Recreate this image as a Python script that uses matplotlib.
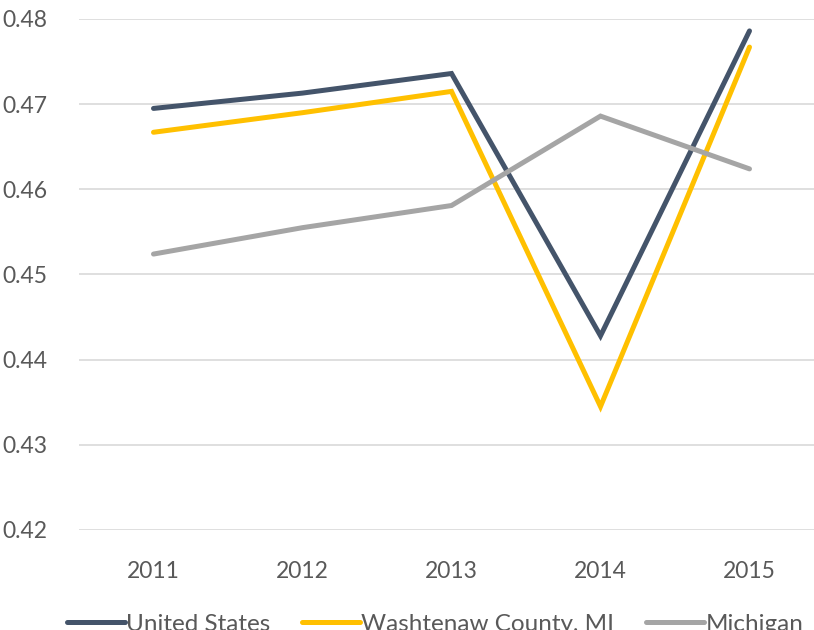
import matplotlib.pyplot as plt

# dados
anos = ["2011", "2012", "2013", "2014", "2015"]
eua = [0.4695, 0.4713, 0.4736, 0.4428, 0.4786]
washtenaw = [0.4667, 0.4690, 0.4715, 0.4345, 0.4767]
michigan = [0.4524, 0.4555, 0.4581, 0.4686, 0.4624]

series = [
    ("United States", eua, "#44546A"),
    ("Washtenaw County, MI", washtenaw, "#FFC000"),
    ("Michigan", michigan, "#A5A5A5"),
]

plt.rcParams['font.family'] = ['Lato', 'DejaVu Sans']
texto = "#595959"

fig = plt.figure(figsize=(8.14, 6.3), dpi=100)
ax = fig.add_axes([79 / 814, 100 / 630, 745 / 814, 511 / 630])

x = range(len(anos))
for nome, valores, cor in series:
    ax.plot(x, valores, color=cor, lw=3.6, label=nome,
            solid_capstyle='round', solid_joinstyle='miter')

ax.set_xlim(-0.5, len(anos) - 0.5)
ax.set_ylim(0.42, 0.48)
ax.set_yticks([0.42, 0.43, 0.44, 0.45, 0.46, 0.47, 0.48])
ax.set_yticklabels(["0.42", "0.43", "0.44", "0.45", "0.46", "0.47", "0.48"])
ax.set_xticks(list(x))
ax.set_xticklabels(anos)
ax.tick_params(length=0, labelsize=16.5, labelcolor=texto)
ax.tick_params(axis='y', pad=23)
ax.tick_params(axis='x', pad=22)
ax.grid(axis='y', color="#D9D9D9", lw=1.2)
ax.set_axisbelow(True)
for s in ax.spines.values():
    s.set_visible(False)

fig.legend(loc='center', bbox_to_anchor=(435 / 814, 6 / 630), ncol=3,
           frameon=False, fontsize=17.5, labelcolor=texto,
           handlelength=2.4, handletextpad=0.05, columnspacing=1.3)

fig.savefig("out.png", dpi=100)
